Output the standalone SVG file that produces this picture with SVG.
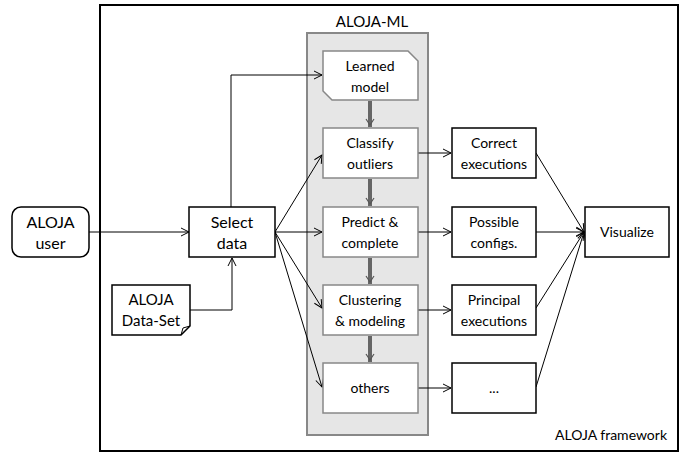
<svg xmlns="http://www.w3.org/2000/svg" width="680" height="453" viewBox="0 0 680 453">
<defs>
<marker id="ah" markerWidth="10" markerHeight="10" refX="9" refY="5" orient="auto" markerUnits="userSpaceOnUse">
<path d="M1,1 L9,5 L1,9" fill="none" stroke="#000" stroke-width="1"/>
</marker>
<style>
.box{fill:#fff;stroke:#000;stroke-width:1.5}
.ibox{fill:#fff;stroke:#888;stroke-width:1.5}
.t{font-family:Lato,"Open Sans","Liberation Sans",sans-serif;font-size:14px;fill:#000;text-anchor:middle}
.tl{font-family:Lato,"Open Sans","Liberation Sans",sans-serif;font-size:16px;fill:#000;text-anchor:middle}
.c{fill:none;stroke:#000;stroke-width:1;marker-end:url(#ah)}
.g{fill:none;stroke:#666;stroke-width:4}
</style>
</defs>
<rect width="680" height="453" fill="#fff"/>
<g id="framework">
<rect x="100" y="5" width="578" height="446" fill="#fff" stroke="#000" stroke-width="2"/>
<text x="667" y="440" style="font-family:Lato,'Open Sans','Liberation Sans',sans-serif;font-size:14px;text-anchor:end">ALOJA framework</text>
</g>
<g id="aloja-ml">
<rect x="307" y="33" width="121" height="402" fill="#e6e6e6" stroke="#888" stroke-width="2"/>
<text class="tl" x="372" y="27" style="font-size:15px">ALOJA-ML</text>
</g>
<g id="connectors">
<g>
<line class="g" x1="370" y1="101" x2="370" y2="127"/>
<line class="g" x1="370" y1="179" x2="370" y2="206"/>
<line class="g" x1="370" y1="258" x2="370" y2="284"/>
<line class="g" x1="370" y1="336" x2="370" y2="362"/>
<path d="M366,119 L370,125 L374,119 M366,198 L370,204 L374,198 M366,276 L370,282 L374,276 M366,354 L370,360 L374,354" fill="none" stroke="#555" stroke-width="1.2"/>
</g>
<line class="c" x1="89" y1="232" x2="189" y2="232"/>
<path class="c" d="M190,310 H232 V258"/>
<path class="c" d="M231,207 V75 H322"/>
<line class="c" x1="275" y1="232" x2="322" y2="155"/>
<line class="c" x1="275" y1="232" x2="322" y2="232"/>
<line class="c" x1="275" y1="232" x2="322" y2="308"/>
<line class="c" x1="275" y1="232" x2="322" y2="387"/>
<line class="c" x1="418" y1="153" x2="451" y2="153"/>
<line class="c" x1="418" y1="232" x2="451" y2="232"/>
<line class="c" x1="418" y1="310" x2="451" y2="310"/>
<line class="c" x1="418" y1="388" x2="451" y2="388"/>
<line class="c" x1="536" y1="153" x2="584" y2="232"/>
<line class="c" x1="536" y1="232" x2="584" y2="232"/>
<line class="c" x1="536" y1="308" x2="584" y2="232"/>
<line class="c" x1="536" y1="387" x2="584" y2="232"/>
</g>
<g id="aloja-user">
<rect class="box" x="12" y="207" width="77" height="50" rx="9"/>
<text class="tl" x="50.5" y="228">ALOJA</text>
<text class="tl" x="50.5" y="249">user</text>
</g>
<g id="select-data">
<rect class="box" x="189" y="207" width="86" height="50"/>
<text class="tl" x="232" y="228">Select</text>
<text class="tl" x="232" y="249">data</text>
</g>
<g id="dataset">
<path class="box" d="M112,285 H190 V326 L181,335 H112 Z"/>
<path d="M181,335 L183,328 L190,326" fill="none" stroke="#000" stroke-width="1"/>
<text class="tl" x="151" y="305" style="font-size:15px">ALOJA</text>
<text class="tl" x="151" y="326" style="font-size:15px">Data-Set</text>
</g>
<g id="learned-model">
<path class="ibox" d="M323,51 H408 L418,61 V100 H332 L323,91 Z"/>
<text class="t" x="370" y="71">Learned</text>
<text class="t" x="370" y="92">model</text>
</g>
<g id="classify">
<rect class="ibox" x="323" y="128" width="95" height="50"/>
<text class="t" x="370" y="148">Classify</text>
<text class="t" x="370" y="169">outliers</text>
</g>
<g id="predict">
<rect class="ibox" x="323" y="207" width="95" height="50"/>
<text class="t" x="370" y="227">Predict &amp;</text>
<text class="t" x="370" y="248">complete</text>
</g>
<g id="clustering">
<rect class="ibox" x="323" y="285" width="95" height="50"/>
<text class="t" x="370" y="305">Clustering</text>
<text class="t" x="370" y="326">&amp; modeling</text>
</g>
<g id="others">
<rect class="ibox" x="323" y="363" width="95" height="50"/>
<text class="t" x="370" y="393">others</text>
</g>
<g id="correct">
<rect class="box" x="452" y="128" width="84" height="50"/>
<text class="t" x="494" y="148">Correct</text>
<text class="t" x="494" y="169">executions</text>
</g>
<g id="possible">
<rect class="box" x="452" y="207" width="84" height="50"/>
<text class="t" x="494" y="227">Possible</text>
<text class="t" x="494" y="248">configs.</text>
</g>
<g id="principal">
<rect class="box" x="452" y="285" width="84" height="50"/>
<text class="t" x="494" y="305">Principal</text>
<text class="t" x="494" y="326">executions</text>
</g>
<g id="dots">
<rect class="box" x="452" y="363" width="84" height="50"/>
<text class="t" x="494" y="393">...</text>
</g>
<g id="visualize">
<rect class="box" x="585" y="207" width="84" height="50"/>
<text class="t" x="627" y="237">Visualize</text>
</g>
</svg>
